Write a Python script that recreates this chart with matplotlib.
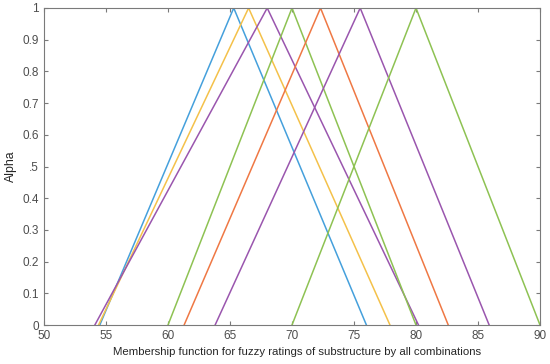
import matplotlib
matplotlib.use("Agg")
import matplotlib.pyplot as plt
import numpy as np

plt.rcParams['font.family'] = ['Liberation Sans', 'DejaVu Sans']

# Triangular fuzzy numbers (left, peak, right)
lefts = [54.5, 54.4, 54.1, 60.0, 61.3, 63.8, 70.0]
peaks = [65.3, 66.5, 68.0, 70.0, 72.3, 75.5, 80.0]
rights = [76.0, 77.9, 80.2, 80.0, 82.6, 85.9, 90.0]
colors = ['#45a0dc', '#f4c14a', '#9a56ae', '#8ec253', '#ef7844', '#9a56ae', '#8ec253']

xticks = [50, 55, 60, 65, 70, 75, 80, 85, 90]
yticks = [0, 0.1, 0.2, 0.3, 0.4, 0.5, 0.6, 0.7, 0.8, 0.9, 1]
yticklabels = ['0', '0.1', '0.2', '0.3', '0.4', '.5', '0.6', '0.7', '0.8', '0.9', '1']

fig = plt.figure(figsize=(5.5, 3.64), dpi=100)
ax = fig.add_axes([44/550, 1 - 325/364, 496/550, 317/364])

for l, p, r, c in zip(lefts, peaks, rights, colors):
    ax.plot([l, p, r], [0, 1, 0], color=c, lw=1.1)

ax.set_xlim(50, 90)
ax.set_ylim(0, 1)
ax.set_xticks(xticks)
ax.set_yticks(yticks)
ax.set_yticklabels(yticklabels)

gray = '#7a7a7a'
for s in ax.spines.values():
    s.set_color(gray)
    s.set_linewidth(0.8)
ax.tick_params(direction='in', top=True, right=True, colors=gray, labelcolor='#4d4d4d',
               labelsize=8.5, length=3, width=0.8)
ax.set_xlabel('Membership function for fuzzy ratings of substructure by all combinations',
              fontsize=8.2, color='#262626')
ax.xaxis.set_label_coords(0.51, -0.068)
ax.set_ylabel('Alpha', fontsize=8.8, color='#262626', va='center')
ax.yaxis.set_label_coords(-0.066, 0.5)

fig.savefig('out.png', dpi=100)
